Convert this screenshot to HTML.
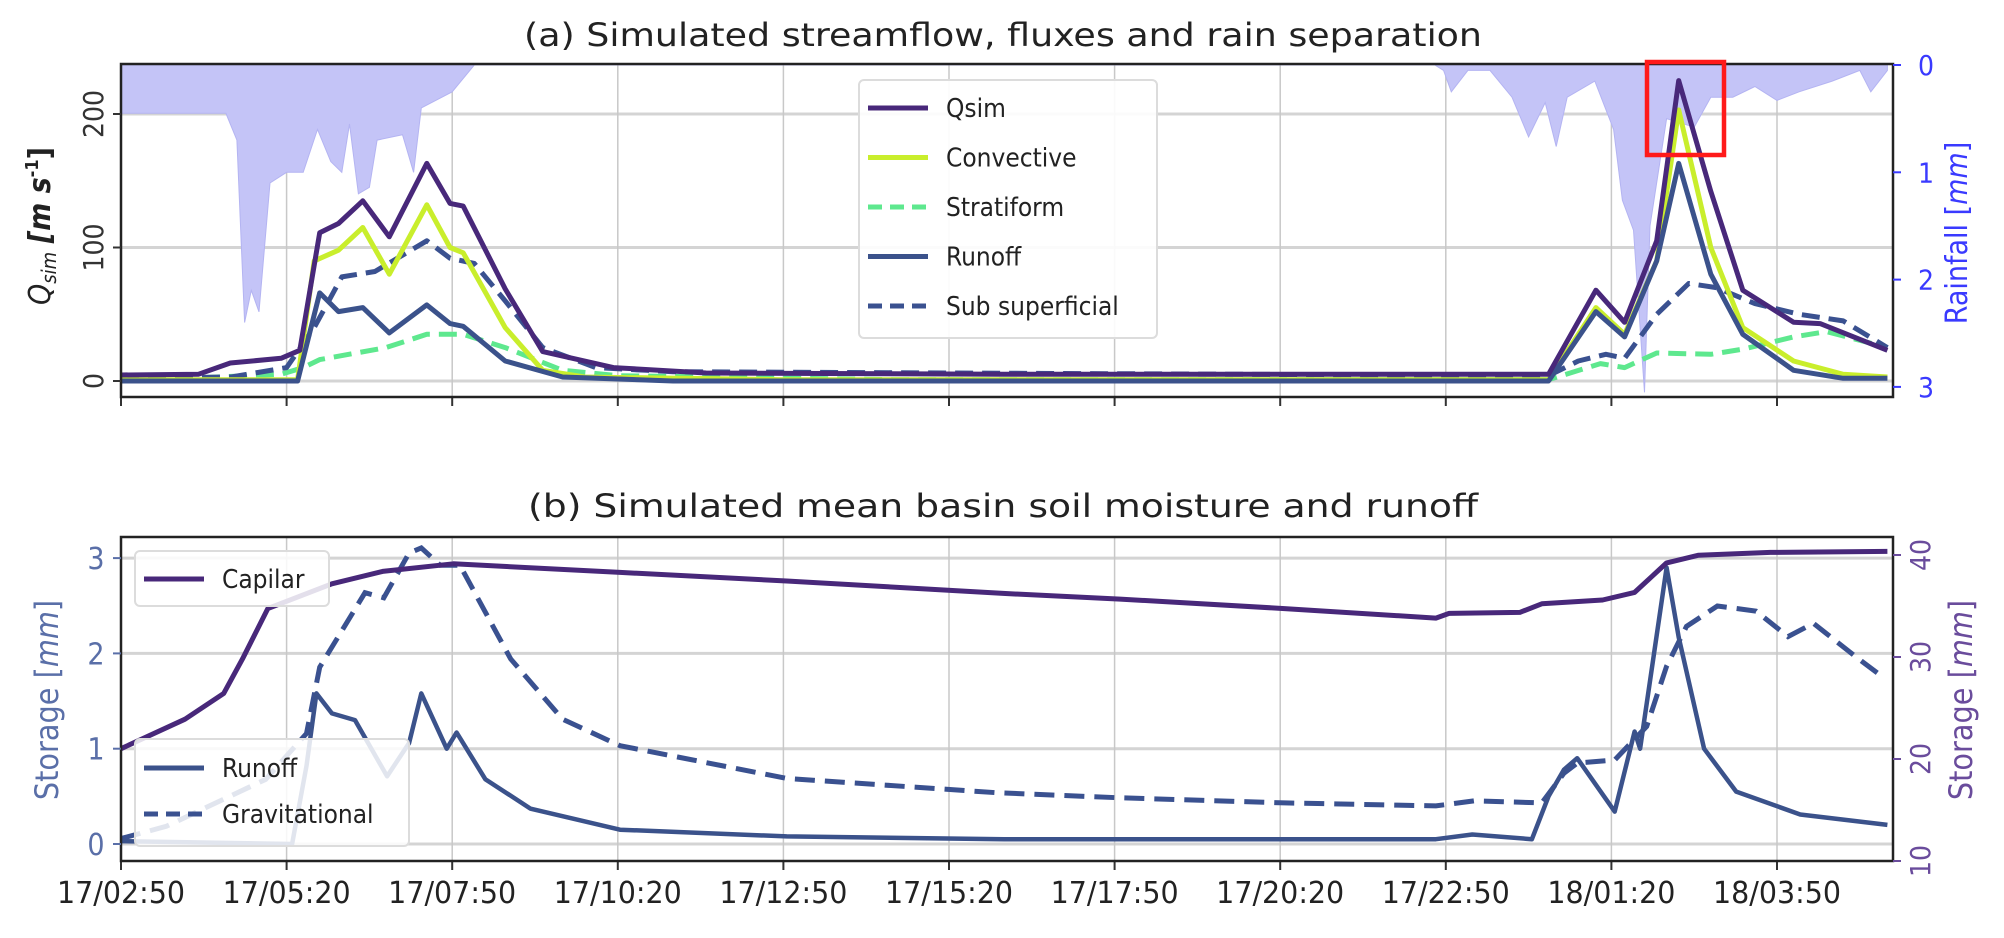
<!DOCTYPE html>
<html><head><meta charset="utf-8"><style>
html,body{margin:0;padding:0;background:#fff;}
svg text{font-family:"Liberation Sans Narrow","DejaVu Sans Condensed","Liberation Sans",sans-serif;}
</style></head><body>
<svg id="chart" width="2004" height="933" viewBox="0 0 2004 933" xmlns="http://www.w3.org/2000/svg">
<g id="topPanel"></g>
<g id="botPanel"></g>
</svg>
<script>
// ---------- data (t = minutes since 17/02:50) ----------
const xTickLabels = ["17/02:50","17/05:20","17/07:50","17/10:20","17/12:50","17/15:20","17/17:50","17/20:20","17/22:50","18/01:20","18/03:50"];
const qsimT = [0,70,99,145,162,180,197,219,243,277,298,310,348,382,446,530,800,1100,1293,1336,1362,1391,1411,1440,1469,1515,1539,1600];
const qsimV = [4.5,5,13.5,17,23,111,118,135,108,163,133,131,69,22,10,6,5,5,5,68,44,105,225,142,68,44,43,23];
const convT = [0,160,175,197,219,243,277,298,310,348,382,420,600,1293,1336,1362,1391,1411,1440,1469,1515,1560,1600];
const convV = [1,1,90,98,115,80,132,100,96,40,8,3,1,1,55,35,90,203,100,40,15,5,3];
const stratT = [0,145,165,180,240,277,310,348,400,450,700,1293,1340,1362,1391,1440,1470,1515,1545,1600];
const stratV = [0,5,10,16,25,35,35,25,8,4,1,1,13,10,21,20,24,33,37,25];
const runT = [0,160,180,197,219,243,277,298,310,348,400,500,1293,1336,1362,1391,1411,1440,1469,1515,1560,1600];
const runV = [0,0,66,52,55,36,57,43,41,15,3,0,0,52,33,90,163,80,35,8,2,2];
const subT = [0,100,150,175,200,230,277,298,320,348,382,430,500,1293,1320,1345,1362,1391,1420,1445,1480,1520,1560,1600];
const subV = [2,3,10,40,78,82,105,92,88,60,25,10,7,4,15,20,17,50,73,70,58,50,45,25];
const rainT = [0,95,105,112,118,125,135,150,165,178,190,200,207,215,225,232,255,265,272,300,320,1190,1198,1205,1220,1240,1260,1275,1290,1300,1310,1335,1352,1360,1370,1380,1385,1400,1425,1440,1460,1480,1500,1520,1550,1575,1585,1600];
const rainV = [0.45,0.45,0.7,2.4,2.1,2.3,1.1,1.0,1.0,0.6,0.9,1.0,0.55,1.2,1.14,0.7,0.65,1.0,0.4,0.25,0,0,0.05,0.25,0.05,0.05,0.3,0.67,0.35,0.76,0.3,0.15,0.6,1.26,1.54,3.05,1.5,0.5,0.58,0.3,0.3,0.2,0.33,0.25,0.15,0.05,0.25,0.05];
const capT = [0,58,93,110,133,191,237,301,452,603,799,905,1054,1191,1203,1267,1287,1342,1371,1400,1429,1494,1600];
const capV = [1.0,1.31,1.58,1.94,2.47,2.73,2.86,2.94,2.85,2.76,2.63,2.57,2.47,2.37,2.42,2.43,2.52,2.56,2.64,2.95,3.03,3.06,3.07];
const broT = [0,155,168,177,191,212,241,261,272,295,304,330,371,452,603,800,1191,1224,1278,1293,1307,1319,1353,1371,1376,1400,1411,1434,1463,1521,1600];
const broV = [0.03,0.0,0.82,1.58,1.37,1.3,0.71,1.06,1.58,1.0,1.17,0.68,0.37,0.15,0.08,0.05,0.05,0.1,0.05,0.5,0.78,0.9,0.34,1.18,1.0,2.9,2.17,1.0,0.55,0.31,0.2];
const gravT = [0,41,131,168,180,221,238,261,272,289,307,353,400,452,603,793,905,1054,1191,1226,1287,1307,1319,1353,1382,1400,1418,1446,1481,1510,1533,1574,1595];
const gravV = [12.2,13.4,18,22.5,29,36.3,35.8,40.2,40.7,39,39,29.8,23.9,21.3,18.1,16.7,16.2,15.7,15.4,15.9,15.7,18.6,19.6,19.9,23.2,29.1,33,35,34.5,32,33.3,29.8,28.1];
const qTicks = [0,100,200];
const rainTicks = [0,1,2,3];
const sLTicks = [0,1,2,3];
const sRTicks = [10,20,30,40];

// ---------- scales ----------
const X0=121, X1=1893;
const xs = t => X0 + t*165.6/150;
const qy = v => 381 - v*1.335;
const ry = v => 65 + v*107.3;
const sly = v => 844 - v*95.3;
const sry = v => 861 - (v-10)*10.2;
const NS="http://www.w3.org/2000/svg";
function mk(parent,tag,attrs,text){const el=document.createElementNS(NS,tag);for(const k in attrs)el.setAttribute(k,attrs[k]);if(text!==undefined)el.textContent=text;parent.appendChild(el);return el;}
function pathD(T,V,ys){return T.map((t,i)=>(i?'L':'M')+xs(t).toFixed(1)+','+ys(V[i]).toFixed(1)).join(' ');}

const topG=document.getElementById('topPanel'), botG=document.getElementById('botPanel');

// ---------- panel a ----------
let e;
e=mk(topG,'text',{x:1003,y:46,'font-size':32,'text-anchor':'middle',fill:'#222',textLength:958,lengthAdjust:'spacingAndGlyphs'},'(a) Simulated streamflow, fluxes and rain separation');

qTicks.forEach(v=>{e=mk(topG,'line',{x1:X0,x2:X1,y1:qy(v),y2:qy(v),stroke:'#d4d4d4','stroke-width':3});
});
xTickLabels.forEach((l,i)=>{const x=xs(150*i);
e=mk(topG,'line',{x1:x,x2:x,y1:64,y2:397,stroke:'#c8c8c8','stroke-width':1.5});

e=mk(topG,'line',{x1:x,x2:x,y1:397,y2:406,stroke:'#333','stroke-width':2});
});
let rd='M'+xs(rainT[0])+','+ry(0)+' '+rainT.map((t,i)=>'L'+xs(t).toFixed(1)+','+ry(rainV[i]).toFixed(1)).join(' ')+' L'+xs(rainT[rainT.length-1])+','+ry(0)+' Z';
e=mk(topG,'path',{d:rd,fill:'#c4c4f7',stroke:'#b4b4f2','stroke-width':1});

const topSeries=[
 ['stratiform-line',stratT,stratV,'#5ee88e','18 9'],
 ['sub-superficial-line',subT,subV,'#3a5190','18 9'],
 ['convective-line',convT,convV,'#c9ee2c',null],
 ['runoff-line',runT,runV,'#3b528b',null],
 ['qsim-line',qsimT,qsimV,'#48287a',null]];
topSeries.forEach(s=>{const a={d:pathD(s[1],s[2],qy),fill:'none',stroke:s[3],'stroke-width':5,'stroke-linejoin':'round'};if(s[4])a['stroke-dasharray']=s[4];
e=mk(topG,'path',a);});
e=mk(topG,'rect',{x:X0,y:64,width:X1-X0,height:333,fill:'none',stroke:'#222','stroke-width':2.5});

qTicks.forEach(v=>{const y=qy(v);
e=mk(topG,'line',{x1:X0-8,x2:X0,y1:y,y2:y,stroke:'#333','stroke-width':2});
e=mk(topG,'text',{x:0,y:0,'font-size':28,'text-anchor':'middle',fill:'#333',transform:`translate(103,${y}) rotate(-90)`,'font-family':'DejaVu Sans'},String(v));
});
rainTicks.forEach(v=>{const y=ry(v);
e=mk(topG,'line',{x1:X1,x2:X1+8,y1:y,y2:y,stroke:'#3a3aff','stroke-width':2});
e=mk(topG,'text',{x:1918,y:y+10,'font-size':28,fill:'#3a3aff','font-family':'DejaVu Sans'},String(v));
});
e=mk(topG,'text',{x:0,y:0,'font-size':30,'text-anchor':'middle',fill:'#222',transform:'translate(50,226) rotate(-90)','font-family':'DejaVu Sans'});

mk(e,'tspan',{'font-style':'italic'},'Q');
mk(e,'tspan',{'font-style':'italic','font-size':20,dy:6},'sim');
mk(e,'tspan',{dy:-6},'  ');
mk(e,'tspan',{'font-weight':'bold','font-style':'italic'},'[m s');
mk(e,'tspan',{'font-size':18,dy:-12,'font-weight':'bold'},'-1');
mk(e,'tspan',{dy:12,'font-weight':'bold'},']');
e=mk(topG,'text',{x:0,y:0,'font-size':30,'text-anchor':'middle',fill:'#3a3aff',transform:'translate(1967,233) rotate(-90)','font-family':'DejaVu Sans'});

mk(e,'tspan',{},'Rainfall [');mk(e,'tspan',{'font-style':'italic'},'mm');mk(e,'tspan',{},']');
e=mk(topG,'rect',{x:1647,y:62,width:77,height:93,fill:'none',stroke:'#ff1a1a','stroke-width':4.5});

const lg=mk(topG,'g',{});
e=mk(lg,'rect',{x:859,y:80,width:298,height:258,rx:5,fill:'#fff','fill-opacity':0.9,stroke:'#dcdcdc','stroke-width':2});

const legA=[['Qsim','#48287a',null],['Convective','#c9ee2c',null],['Stratiform','#5ee88e','14 8'],['Runoff','#3b528b',null],['Sub superficial','#3a5190','14 8']];
legA.forEach((L,i)=>{const y=108+i*49.5;
const a={x1:868,x2:928,y1:y,y2:y,stroke:L[1],'stroke-width':5};if(L[2])a['stroke-dasharray']=L[2];
e=mk(lg,'line',a);
e=mk(lg,'text',{x:946,y:y+9,'font-size':26,fill:'#222'},L[0]);});

// ---------- panel b ----------
e=mk(botG,'text',{x:1003,y:517,'font-size':32,'text-anchor':'middle',fill:'#222',textLength:950,lengthAdjust:'spacingAndGlyphs'},'(b) Simulated mean basin soil moisture and runoff');

sLTicks.forEach(v=>{e=mk(botG,'line',{x1:X0,x2:X1,y1:sly(v),y2:sly(v),stroke:'#d4d4d4','stroke-width':3});
});
xTickLabels.forEach((l,i)=>{const x=xs(150*i);
e=mk(botG,'line',{x1:x,x2:x,y1:537,y2:861,stroke:'#c8c8c8','stroke-width':1.5});

e=mk(botG,'line',{x1:x,x2:x,y1:861,y2:870,stroke:'#333','stroke-width':2});

e=mk(botG,'text',{x:x,y:903,'font-size':30,'text-anchor':'middle',fill:'#222',textLength:128,lengthAdjust:'spacingAndGlyphs'},l);
});
e=mk(botG,'path',{d:pathD(gravT,gravV,sry),fill:'none',stroke:'#3a5190','stroke-width':5,'stroke-dasharray':'20 10'});

e=mk(botG,'path',{d:pathD(broT,broV,sly),fill:'none',stroke:'#3b528b','stroke-width':4.5,'stroke-linejoin':'round'});

e=mk(botG,'path',{d:pathD(capT,capV,sly),fill:'none',stroke:'#48287a','stroke-width':5,'stroke-linejoin':'round'});

e=mk(botG,'rect',{x:X0,y:537,width:X1-X0,height:324,fill:'none',stroke:'#222','stroke-width':2.5});

sLTicks.forEach(v=>{const y=sly(v);
e=mk(botG,'line',{x1:X0-8,x2:X0,y1:y,y2:y,stroke:'#5a6fa8','stroke-width':2});
e=mk(botG,'text',{x:96,y:y+11,'font-size':30,'text-anchor':'middle',fill:'#5a6fa8'},String(v));
});
sRTicks.forEach(v=>{const y=sry(v);
e=mk(botG,'line',{x1:X1,x2:X1+8,y1:y,y2:y,stroke:'#6a4c9c','stroke-width':2});
e=mk(botG,'text',{x:0,y:0,'font-size':28,'text-anchor':'middle',fill:'#6a4c9c',transform:`translate(1930,${y}) rotate(-90)`,'font-family':'DejaVu Sans'},String(v));
});
e=mk(botG,'text',{x:0,y:0,'font-size':32,'text-anchor':'middle',fill:'#5a6fa8',transform:'translate(58,700) rotate(-90)','font-family':'DejaVu Sans'});

mk(e,'tspan',{},'Storage [');mk(e,'tspan',{'font-style':'italic'},'mm');mk(e,'tspan',{},']');
e=mk(botG,'text',{x:0,y:0,'font-size':32,'text-anchor':'middle',fill:'#6a4c9c',transform:'translate(1972,700) rotate(-90)','font-family':'DejaVu Sans'});

mk(e,'tspan',{},'Storage [');mk(e,'tspan',{'font-style':'italic'},'mm');mk(e,'tspan',{},']');
const l1=mk(botG,'g',{});
e=mk(l1,'rect',{x:135,y:551,width:194,height:55,rx:5,fill:'#fff','fill-opacity':0.85,stroke:'#dcdcdc','stroke-width':2});

e=mk(l1,'line',{x1:144,x2:204,y1:579,y2:579,stroke:'#48287a','stroke-width':5});
e=mk(l1,'text',{x:222,y:588,'font-size':26,fill:'#222'},'Capilar');
const l2=mk(botG,'g',{});
e=mk(l2,'rect',{x:135,y:739,width:274,height:107,rx:5,fill:'#fff','fill-opacity':0.85,stroke:'#dcdcdc','stroke-width':2});

e=mk(l2,'line',{x1:144,x2:204,y1:768,y2:768,stroke:'#3b528b','stroke-width':5});
e=mk(l2,'text',{x:222,y:777,'font-size':26,fill:'#222'},'Runoff');
e=mk(l2,'line',{x1:144,x2:204,y1:814,y2:814,stroke:'#3a5190','stroke-width':5,'stroke-dasharray':'14 8'});
e=mk(l2,'text',{x:222,y:823,'font-size':26,fill:'#222'},'Gravitational');
</script>
</body></html>
